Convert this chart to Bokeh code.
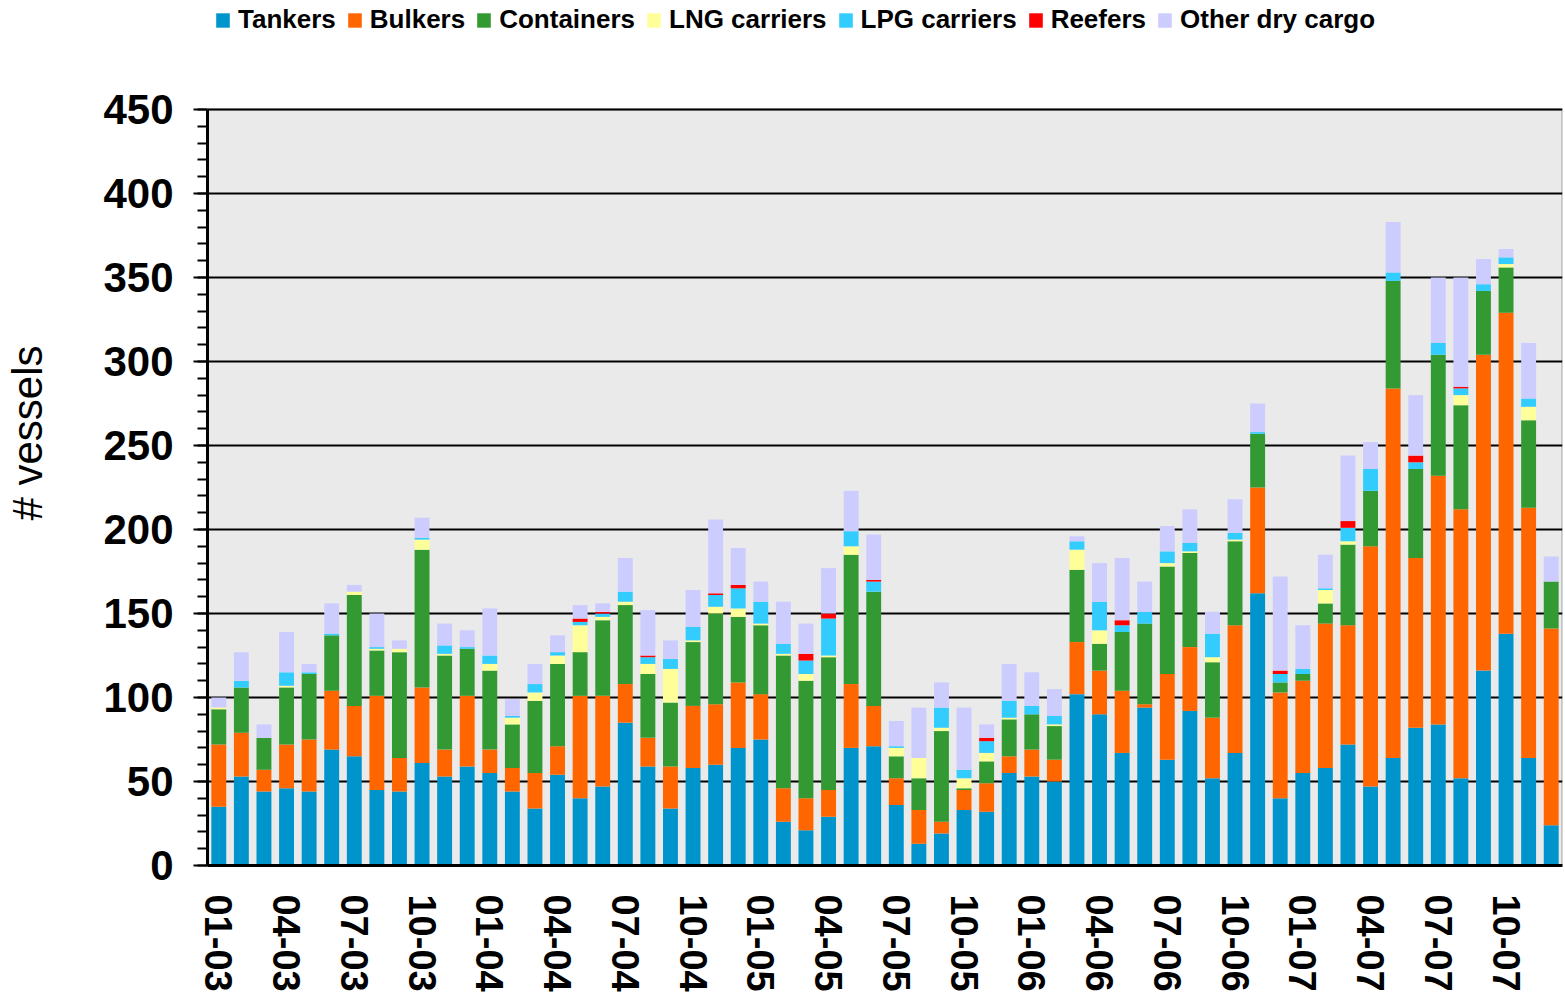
from bokeh.plotting import figure
from bokeh.models import ColumnDataSource, FixedTicker, Legend, LegendItem, Range1d, BoxAnnotation
from bokeh.embed import file_html
from bokeh.resources import INLINE

months = ["01-03", "02-03", "03-03", "04-03", "05-03", "06-03", "07-03", "08-03", "09-03", "10-03", "11-03", "12-03",
          "01-04", "02-04", "03-04", "04-04", "05-04", "06-04", "07-04", "08-04", "09-04", "10-04", "11-04", "12-04",
          "01-05", "02-05", "03-05", "04-05", "05-05", "06-05", "07-05", "08-05", "09-05", "10-05", "11-05", "12-05",
          "01-06", "02-06", "03-06", "04-06", "05-06", "06-06", "07-06", "08-06", "09-06", "10-06", "11-06", "12-06",
          "01-07", "02-07", "03-07", "04-07", "05-07", "06-07", "07-07", "08-07", "09-07", "10-07", "11-07", "12-07"]

tankers = [35, 53, 44, 46, 44, 69, 65, 45, 44, 61, 53, 59,
           55, 44, 34, 54, 40, 47, 85, 59, 34, 58, 60, 70,
           75, 26, 21, 29, 70, 71, 36, 13, 19, 33, 32, 55,
           53, 50, 102, 90, 67, 94, 63, 92, 52, 67, 162, 40,
           55, 58, 72, 47, 64, 82, 84, 52, 116, 138, 64, 24]
bulkers = [37, 26, 13, 26, 31, 35, 30, 56, 20, 45, 16, 42,
           14, 14, 21, 17, 61, 54, 23, 17, 25, 37, 36, 39,
           27, 20, 19, 16, 38, 24, 16, 20, 7, 12, 17, 10,
           16, 13, 31, 26, 37, 2, 51, 38, 36, 76, 63, 63,
           55, 86, 71, 143, 220, 101, 148, 160, 188, 191, 149, 117]
containers = [21, 27, 19, 34, 39, 33, 66, 27, 63, 82, 56, 28,
              47, 26, 43, 49, 26, 45, 47, 38, 38, 38, 54, 39,
              41, 79, 70, 79, 77, 68, 13, 19, 54, 1, 13, 22,
              21, 20, 43, 16, 35, 48, 64, 56, 33, 50, 32, 6,
              4, 12, 48, 33, 64, 53, 72, 62, 38, 27, 52, 28]
lng = [1, 0, 0, 1, 0, 0, 2, 1, 2, 6, 1, 0,
       4, 4, 5, 5, 16, 2, 2, 6, 20, 1, 4, 5,
       1, 1, 4, 1, 5, 0, 5, 12, 2, 6, 5, 1,
       0, 1, 12, 8, 0, 0, 2, 1, 3, 1, 0, 0,
       0, 8, 2, 0, 0, 0, 0, 6, 0, 2, 8, 0]
lpg = [0, 4, 0, 8, 1, 1, 0, 1, 0, 1, 5, 1,
       5, 1, 5, 2, 2, 2, 6, 4, 6, 8, 7, 12,
       13, 6, 8, 22, 9, 6, 1, 0, 12, 5, 7, 10,
       5, 5, 5, 17, 4, 7, 7, 5, 14, 4, 1, 5,
       3, 1, 8, 13, 5, 4, 7, 4, 4, 4, 5, 0]
reefers = [0, 0, 0, 0, 0, 0, 0, 0, 0, 0, 0, 0,
           0, 0, 0, 0, 2, 1, 0, 1, 0, 0, 1, 2,
           0, 0, 4, 3, 0, 1, 0, 0, 0, 0, 2, 0,
           0, 0, 0, 0, 3, 0, 0, 0, 0, 0, 0, 2,
           0, 0, 4, 0, 0, 4, 0, 1, 0, 0, 0, 0]
other = [6, 17, 8, 24, 5, 18, 4, 20, 5, 12, 13, 10,
         28, 10, 12, 10, 8, 5, 20, 27, 11, 22, 44, 22,
         12, 25, 18, 27, 24, 27, 15, 30, 15, 37, 8, 22,
         20, 16, 3, 23, 37, 18, 15, 20, 13, 20, 17, 56,
         26, 20, 39, 16, 30, 36, 39, 65, 15, 5, 33, 15]

series_names = ["Tankers", "Bulkers", "Containers", "LNG carriers", "LPG carriers", "Reefers", "Other dry cargo"]
series_keys = ["tankers", "bulkers", "containers", "lng", "lpg", "reefers", "other"]
colors = ["#0094CC", "#FF6600", "#339933", "#FFFF99", "#33CCFF", "#FF0000", "#CCCCFF"]

xpos = list(range(1, len(months) + 1))
source = ColumnDataSource(dict(x=xpos, tankers=tankers, bulkers=bulkers, containers=containers,
                               lng=lng, lpg=lpg, reefers=reefers, other=other))

FONT = "Liberation Sans"
Y_MAX = 450
# layout: frame spans the full height above the x axis; the grey plot area covers 0..450 only,
# leaving room at the top of the frame for the legend row
FRAME_H = 865
PLOT_TOP = 109
y_end = Y_MAX * FRAME_H / (FRAME_H - PLOT_TOP)

p = figure(width=1565, height=997, output_backend="svg", toolbar_location=None,
           x_range=Range1d(0.5, len(months) + 0.5), y_range=Range1d(0, y_end),
           min_border_left=207, min_border_right=3, min_border_top=0, min_border_bottom=997 - FRAME_H)

p.background_fill_color = "white"
p.border_fill_color = "white"
p.outline_line_color = None

plot_area = BoxAnnotation(bottom=0, top=Y_MAX, fill_color="#EAEAEA", fill_alpha=1,
                          line_color="black", line_width=2, level="underlay")
p.center = [plot_area] + list(p.center)

renderers = p.vbar_stack(series_keys, x="x", width=0.66, color=colors, source=source, line_color=None)

# grid
p.xgrid.visible = False
p.ygrid.ticker = FixedTicker(ticks=list(range(0, Y_MAX + 1, 50)))
p.ygrid.grid_line_color = "black"
p.ygrid.grid_line_width = 2

# y axis
p.yaxis.bounds = (0, Y_MAX)
p.yaxis.ticker = FixedTicker(ticks=list(range(0, Y_MAX + 1, 50)), minor_ticks=list(range(0, Y_MAX + 1, 10)))
p.yaxis.axis_line_width = 3
p.yaxis.axis_line_color = "black"
p.yaxis.major_tick_out = 14
p.yaxis.major_tick_in = 0
p.yaxis.minor_tick_out = 10
p.yaxis.minor_tick_in = 0
p.yaxis.major_tick_line_width = 2
p.yaxis.minor_tick_line_width = 2
p.yaxis.major_label_text_font = FONT
p.yaxis.major_label_text_font_style = "bold"
p.yaxis.major_label_text_font_size = "42px"
p.yaxis.major_label_text_color = "black"
p.yaxis.major_label_standoff = 20
p.yaxis.axis_label = "# vessels"
p.yaxis.axis_label_text_font = FONT
p.yaxis.axis_label_text_font_style = "normal"
p.yaxis.axis_label_text_font_size = "42px"
p.yaxis.axis_label_text_color = "black"
p.yaxis.axis_label_standoff = 49

# x axis
tick_pos = xpos[::3]
p.xaxis.ticker = FixedTicker(ticks=tick_pos)
p.xaxis.major_label_overrides = {x: months[x - 1] for x in tick_pos}
p.xaxis.major_label_orientation = "vertical"
p.xaxis.major_tick_out = 0
p.xaxis.major_tick_in = 0
p.xaxis.minor_tick_out = 0
p.xaxis.minor_tick_in = 0
p.xaxis.axis_line_width = 3
p.xaxis.axis_line_color = "black"
p.xaxis.major_label_text_font = FONT
p.xaxis.major_label_text_font_style = "bold"
p.xaxis.major_label_text_font_size = "38px"
p.xaxis.major_label_text_color = "black"
p.xaxis.major_label_standoff = 29

legend = Legend(items=[LegendItem(label=n, renderers=[r]) for n, r in zip(series_names, renderers)],
                orientation="horizontal", location=(7, FRAME_H - 35))
legend.label_text_font = FONT
legend.label_text_font_style = "bold"
legend.label_text_font_size = "26px"
legend.label_text_color = "black"
legend.glyph_width = 17
legend.glyph_height = 18
legend.label_standoff = 7
legend.spacing = 10
legend.padding = 0
legend.margin = 0
legend.border_line_color = None
legend.background_fill_alpha = 0
legend.label_height = 30
p.add_layout(legend, "center")

open("out.html", "w").write(file_html(p, INLINE))
